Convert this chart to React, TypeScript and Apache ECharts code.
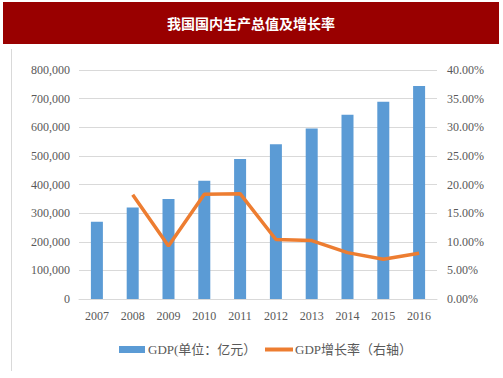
import React, { useEffect, useRef } from "react";
import * as echarts from "echarts";

const years = ["2007", "2008", "2009", "2010", "2011", "2012", "2013", "2014", "2015", "2016"];
const gdp = [270232, 319516, 349081, 413030, 489301, 540367, 595244, 643974, 689052, 744127];
const growth = [null, 18.2, 9.25, 18.3, 18.4, 10.4, 10.2, 8.1, 6.95, 8.0];
const title = "我国国内生产总值及增长率";
const barName = "GDP(单位：亿元）";
const lineName = "GDP增长率（右轴）";

const serif = "'Liberation Serif', 'Times New Roman', 'Noto Sans CJK SC', serif";

export default function App() {
  const ref = useRef<HTMLDivElement>(null);
  useEffect(() => {
    if (!ref.current) return;
    const chart = echarts.init(ref.current, null, { renderer: "svg" });
    chart.setOption({
      animation: false,
      backgroundColor: "#ffffff",
      graphic: [
        { type: "rect", shape: { x: 3, y: 2, width: 496, height: 42 }, style: { fill: "#990000" } },
        {
          type: "text",
          x: 251,
          y: 23,
          style: {
            text: title,
            fill: "#ffffff",
            font: "bold 14px 'Noto Sans CJK SC', sans-serif",
            align: "center",
            verticalAlign: "middle",
          },
        },
        { type: "line", shape: { x1: 11.5, y1: 49, x2: 11.5, y2: 371 }, style: { stroke: "#d9d9d9", lineWidth: 1 } },
      ],
      grid: { left: 79, right: 66, top: 70, bottom: 79 },
      legend: [
        {
          data: [{ name: barName, icon: "rect" }],
          left: 119,
          top: 343,
          padding: 0,
          itemWidth: 26,
          itemHeight: 7,
          itemGap: 4,
          textStyle: { color: "#595959", fontSize: 13, fontFamily: serif, padding: [0, 0, 0, -2] },
        },
        {
          data: [{ name: lineName, icon: "rect" }],
          left: 265,
          top: 343,
          padding: 0,
          itemWidth: 28,
          itemHeight: 4,
          itemGap: 4,
          textStyle: { color: "#595959", fontSize: 13, fontFamily: serif, padding: [0, 0, 0, -3] },
        },
      ],
      xAxis: {
        type: "category",
        data: years,
        axisLine: { show: true, lineStyle: { color: "#d9d9d9" } },
        axisTick: { show: false },
        axisLabel: { color: "#595959", fontSize: 12, fontFamily: serif, margin: 11 },
      },
      yAxis: [
        {
          type: "value",
          min: 0,
          max: 800000,
          interval: 100000,
          axisLine: { show: false },
          axisTick: { show: false },
          splitLine: { lineStyle: { color: "#d9d9d9" } },
          axisLabel: {
            color: "#595959",
            fontSize: 12,
            fontFamily: serif,
            margin: 9,
            formatter: (v: number) => v.toLocaleString("en-US"),
          },
        },
        {
          type: "value",
          min: 0,
          max: 40,
          interval: 5,
          axisLine: { show: false },
          axisTick: { show: false },
          splitLine: { show: false },
          axisLabel: {
            color: "#595959",
            fontSize: 12,
            fontFamily: serif,
            margin: 10,
            formatter: (v: number) => v.toFixed(2) + "%",
          },
        },
      ],
      series: [
        {
          name: barName,
          type: "bar",
          data: gdp,
          barWidth: 12,
          itemStyle: { color: "#5b9bd5" },
        },
        {
          name: lineName,
          type: "line",
          yAxisIndex: 1,
          data: growth,
          symbol: "none",
          lineStyle: { color: "#ed7d31", width: 3.5 },
          itemStyle: { color: "#ed7d31" },
        },
      ],
    });
    return () => chart.dispose();
  }, []);
  return (
    <div
      ref={ref}
      style={{ position: "fixed", left: 0, top: 0, width: 503, height: 378 }}
    />
  );
}
